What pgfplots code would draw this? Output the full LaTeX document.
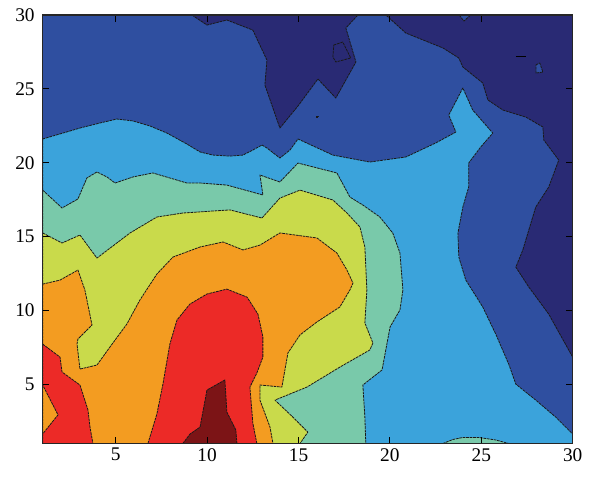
\documentclass[border=0pt]{standalone}
\usepackage{fontspec}
\setmainfont{Liberation Serif}
\usepackage{pgfplots}
\pgfplotsset{compat=1.18}

% filled contour levels, low to high
\definecolor{lvA}{RGB}{41,42,116}
\definecolor{lvB}{RGB}{47,79,160}
\definecolor{lvC}{RGB}{59,163,219}
\definecolor{lvD}{RGB}{121,201,170}
\definecolor{lvE}{RGB}{201,218,75}
\definecolor{lvF}{RGB}{243,156,33}
\definecolor{lvG}{RGB}{236,42,39}
\definecolor{lvH}{RGB}{124,20,22}

\pgfplotsset{
  band/.style={fill=#1, draw=black!90, line width=0.6pt,
    dash pattern=on 2pt off 0.6pt, mark=none, line join=round, forget plot},
}

\begin{document}
\begin{tikzpicture}
\begin{axis}[
  scale only axis, width=397.5pt, height=321.4pt,
  xmin=1, xmax=30, ymin=1, ymax=30,
  xtick={5,10,...,30}, ytick={5,10,...,30},
  tick align=inside, tick pos=both,
  major tick length=5pt,
  axis on top,
  axis line style={line width=0.8pt, black!85},
  tick style={black, line width=0.7pt},
  ticklabel style={font=\fontsize{14.5}{17}\selectfont},
  yticklabel style={xshift=-2.5pt},
  /pgf/number format/assume math mode=true,
]
% lowest band above the navy level covers the whole field
\addplot[band=lvB, draw=none] coordinates {(1,1) (30,1) (30,30) (1,30) (1,1)};

% navy level: upper right and right side
\addplot[band=lvA] coordinates {
 (9.17,30) (9.99,29.32) (11.08,29.66) (12.50,28.98) (13.27,26.95) (13.16,25.26)
 (13.98,22.35) (14.97,23.84) (16.06,25.67) (17.04,24.38) (18.14,26.82) (17.59,29.12)
 (18.25,30) (19.78,30) (20.87,28.78) (22.90,27.77) (23.77,27.09) (23.99,26.48)
 (25.08,25.40) (25.36,24.25) (26.18,23.57) (27.44,23.09) (28.37,22.42) (28.42,21.54)
 (29.24,20.18) (28.69,18.36) (27.98,17.00) (27.60,15.45) (27.27,14.09) (26.89,12.94)
 (27.60,11.59) (28.69,9.76) (30,6.85) (30,30) (9.17,30)};
% navy islands
\addplot[band=lvA] coordinates {(16.93,27.97) (17.42,28.17) (17.86,27.09) (17.04,26.82) (16.88,27.16) (16.93,27.97)};
\addplot[band=lvA] coordinates {(15.96,23.14) (16.06,23.14) (16.06,23.05) (15.96,23.05) (15.96,23.14)};
% small pockets of the second level inside the navy
\addplot[band=lvB] coordinates {(23.79,30) (24.05,29.59) (24.42,30) (23.79,30)};
\addplot[band=lvB] coordinates {(27.99,26.62) (28.20,26.75) (28.37,26.14) (27.99,26.07) (27.99,26.62)};
\addplot[draw=black, line width=0.7pt, mark=none, forget plot] coordinates {(26.89,27.16) (27.44,27.16)};

% light blue level
\addplot[band=lvC] coordinates {
 (1,21.61) (2.11,22.01) (3.04,22.35) (4.13,22.69) (5.06,22.96) (5.94,22.83) (6.87,22.49)
 (7.80,22.01) (8.89,21.27) (9.61,20.73) (10.32,20.52) (11.25,20.45) (11.96,20.52)
 (12.50,20.86) (13.00,21.20) (13.27,21.00) (13.98,20.32) (14.53,20.86) (14.97,21.61)
 (16.88,20.52) (18.90,20.05) (20.87,20.39) (22.51,21.34) (23.61,22.08) (23.22,23.23)
 (23.99,25.06) (24.53,23.57) (25.63,22.01) (24.97,21.07) (24.31,19.98) (24.31,18.36)
 (23.99,17.00) (23.72,15.24) (23.77,13.62) (24.15,12.07) (25.08,10.24) (25.79,8.41)
 (26.50,6.38) (26.89,5.02) (27.98,3.94) (29.07,2.79) (30,1.64) (30,1) (1,1) (1,21.61)};

% teal level
\addplot[band=lvD] coordinates {
 (1,18.15) (2.06,16.94) (2.93,17.55) (3.42,18.97) (3.97,19.38) (4.52,19.04) (4.96,18.63)
 (5.94,19.04) (7.03,19.31) (8.89,18.63) (9.61,18.63) (11.08,18.49) (13.05,17.82)
 (12.89,19.17) (13.98,18.70) (14.97,19.98) (17.10,19.31) (17.81,17.68) (18.52,17.14)
 (19.45,16.33) (20.16,15.24) (20.55,13.89) (20.71,11.39) (20.55,10.04) (20.01,8.89)
 (19.57,5.98) (18.52,4.96) (18.63,2.79) (18.68,1) (1,1) (1,18.15)};
\addplot[band=lvD] coordinates {(22.90,1) (23.44,1.27) (23.99,1.41) (24.86,1.41) (25.79,1.24) (26.50,1) (22.90,1)};

% yellow-green level
\addplot[band=lvE] coordinates {
 (1,15.25) (2.06,14.57) (3.04,15.11) (3.97,13.55) (5.78,15.25) (7.25,16.33) (8.67,16.60)
 (11.25,16.81) (13.00,16.26) (13.98,17.61) (15.08,18.15) (16.88,17.48) (17.65,16.60)
 (18.36,15.65) (18.63,14.30) (18.74,11.39) (18.63,9.16) (19.07,7.80) (18.90,7.33)
 (17.26,6.17) (15.46,4.82) (13.71,3.94) (14.69,2.79) (15.51,1.77) (15.08,1) (1,1) (1,15.25)};

% orange level
\addplot[band=lvF] coordinates {
 (1,11.79) (1.95,12.06) (2.93,12.74) (3.31,11.39) (3.70,9.02) (2.93,8.07) (2.88,7.73)
 (3.04,6.04) (3.97,6.31) (4.68,7.53) (5.61,9.09) (6.32,10.71) (7.25,12.47) (8.13,13.62)
 (9.61,14.30) (10.87,14.64) (11.96,14.10) (12.89,14.43) (13.98,15.25) (16.01,14.91)
 (17.10,13.89) (17.65,12.74) (17.98,11.86) (17.81,11.39) (17.26,10.24) (16.01,9.23)
 (15.08,8.35) (14.42,7.13) (14.09,4.82) (12.89,4.96) (12.89,3.94) (13.44,2.11)
 (13.60,1) (1,1) (1,11.79)};

% red level
\addplot[band=lvG] coordinates {
 (1,7.73) (1.95,6.85) (2.06,5.84) (3.04,4.96) (3.48,3.27) (3.59,2.11) (3.75,1) (1,1)
 (1,1.65) (1.84,2.94) (1,4.96) (1,7.73)};
\addplot[band=lvG] coordinates {
 (6.76,1) (7.25,3.00) (7.58,5.02) (7.96,7.73) (8.35,9.36) (9.06,10.44) (9.99,11.12)
 (11.08,11.45) (12.18,10.91) (12.78,9.76) (13.05,8.21) (13.05,6.85) (12.72,5.77)
 (12.34,4.82) (12.50,2.38) (12.72,1) (6.76,1)};

% dark red peak
\addplot[band=lvH] coordinates {
 (8.67,1) (9.06,1.64) (9.61,2.11) (9.99,4.62) (10.97,5.30) (11.08,3.13) (11.57,1.91)
 (11.63,1) (8.67,1)};
\end{axis}
\path (current axis.south west) ++(-32pt,-25.1pt) coordinate (bbA);
\path (current axis.north east) ++(17.5pt,11.25pt) coordinate (bbB);
\pgfresetboundingbox
\useasboundingbox (bbA) rectangle (bbB);
\end{tikzpicture}
\end{document}
